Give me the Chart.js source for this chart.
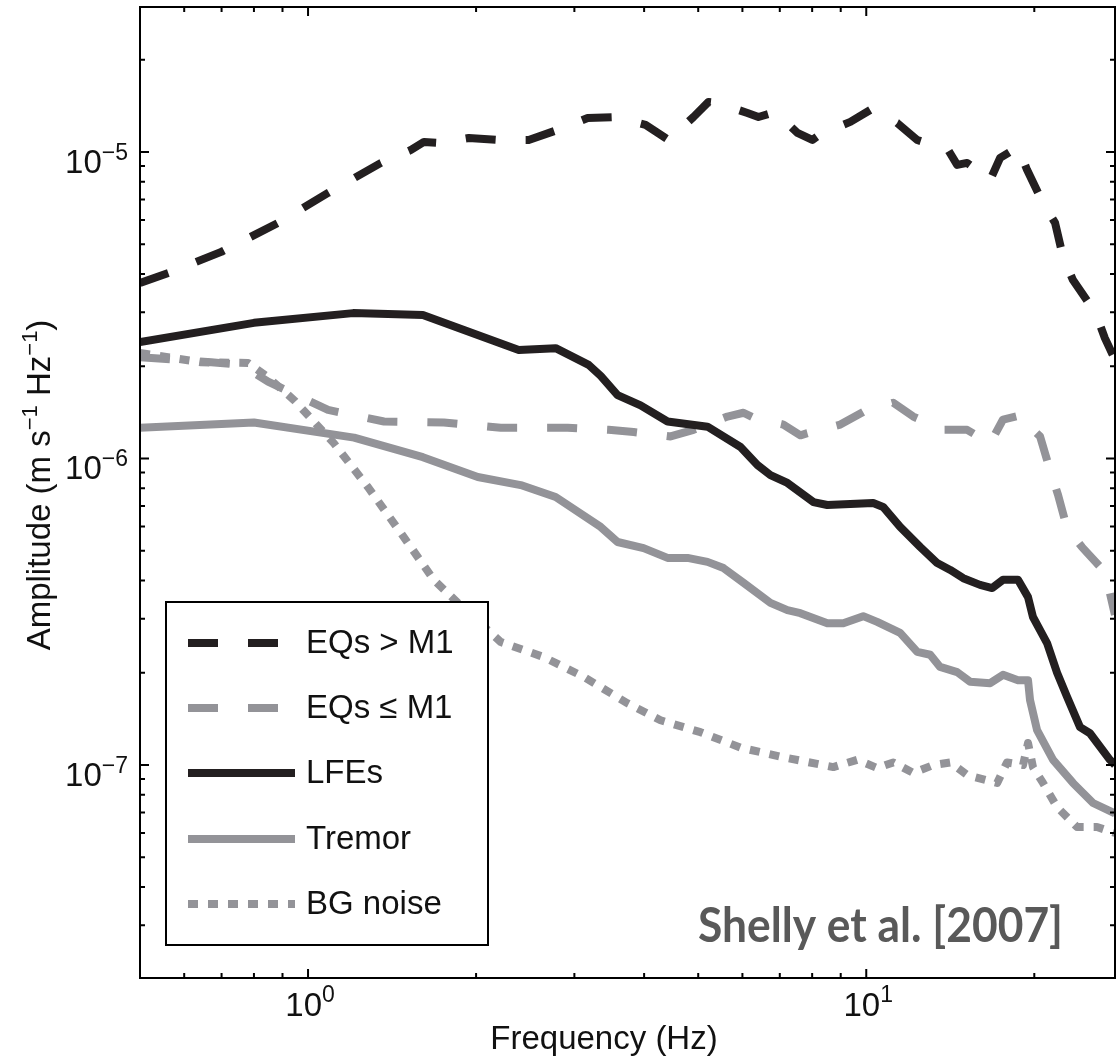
<!DOCTYPE html>
<html>
<head>
<meta charset="utf-8">
<script src="https://cdn.jsdelivr.net/npm/chart.js@4.4.1/dist/chart.umd.min.js"></script>
<style>
  html, body { margin: 0; padding: 0; background: #fff; }
  #wrap { width: 1120px; height: 1056px; }
</style>
</head>
<body>
<div id="wrap"><canvas id="grafico" width="1120" height="1056"></canvas></div>
<script>
(() => {
  "use strict";

  // ---------- dados ----------
  const eqBigFreq = [0.5, 0.562, 0.699, 0.884, 1.086, 1.351, 1.529, 1.613, 1.715, 1.941, 2.197, 2.485, 2.800, 3.169, 3.556, 4.024, 4.424, 4.903, 5.217, 5.414, 6.126, 6.410, 6.875, 7.528, 8.006, 8.343, 9.363, 10.17, 11.36, 12.34, 14.02, 14.55, 15.16, 16.67, 17.37, 18.70, 19.41, 20.73, 21.79, 22.52, 23.46, 25.16, 26.22, 26.76, 27.67];
  const eqBigAmp  = [3.74e-6, 4.03e-6, 4.72e-6, 5.87e-6, 7.35e-6, 9.21e-6, 1.015e-5, 1.078e-5, 1.07e-5, 1.11e-5, 1.094e-5, 1.094e-5, 1.18e-5, 1.29e-5, 1.30e-5, 1.225e-5, 1.094e-5, 1.30e-5, 1.456e-5, 1.445e-5, 1.34e-5, 1.30e-5, 1.35e-5, 1.153e-5, 1.094e-5, 1.153e-5, 1.253e-5, 1.371e-5, 1.243e-5, 1.094e-5, 1.015e-5, 9.07e-6, 9.21e-6, 8.10e-6, 9.56e-6, 1.038e-5, 8.74e-6, 6.82e-6, 5.87e-6, 4.54e-6, 3.82e-6, 3.17e-6, 2.73e-6, 2.47e-6, 2.17e-6];

  const eqSmallFreq = [0.5, 0.671, 0.759, 0.848, 1.086, 1.368, 1.751, 2.214, 2.918, 3.455, 3.830, 4.461, 4.903, 5.641, 6.026, 6.280, 7.105, 7.621, 7.844, 8.985, 9.877, 11.18, 12.14, 13.73, 15.16, 16.67, 17.58, 19.09, 19.65, 20.48, 21.34, 22.06, 22.89, 24.35, 26.55, 27.32, 27.89];
  const eqSmallAmp  = [2.14e-6, 2.06e-6, 2.02e-6, 1.78e-6, 1.44e-6, 1.32e-6, 1.31e-6, 1.26e-6, 1.26e-6, 1.24e-6, 1.22e-6, 1.18e-6, 1.24e-6, 1.37e-6, 1.41e-6, 1.36e-6, 1.29e-6, 1.19e-6, 1.21e-6, 1.29e-6, 1.42e-6, 1.52e-6, 1.37e-6, 1.24e-6, 1.24e-6, 1.12e-6, 1.34e-6, 1.39e-6, 1.27e-6, 1.18e-6, 9.18e-7, 7.60e-7, 5.93e-7, 5.14e-7, 4.33e-7, 3.64e-7, 3.09e-7];

  const lfeFreq = [0.5, 0.800, 1.204, 1.606, 2.385, 2.777, 3.182, 3.344, 3.585, 3.942, 4.406, 5.195, 5.953, 6.383, 6.735, 7.224, 8.040, 8.517, 10.29, 10.72, 11.50, 12.50, 13.40, 14.14, 14.92, 15.99, 16.81, 17.58, 18.70, 19.49, 19.89, 21.08, 21.97, 22.89, 24.15, 25.16, 27.32, 27.89];
  const lfeAmp  = [2.40e-6, 2.77e-6, 2.98e-6, 2.94e-6, 2.26e-6, 2.29e-6, 2.02e-6, 1.86e-6, 1.61e-6, 1.49e-6, 1.32e-6, 1.27e-6, 1.09e-6, 9.52e-7, 8.83e-7, 8.32e-7, 7.21e-7, 7.05e-7, 7.16e-7, 6.95e-7, 5.98e-7, 5.14e-7, 4.56e-7, 4.33e-7, 4.07e-7, 3.87e-7, 3.78e-7, 4.02e-7, 4.02e-7, 3.53e-7, 3.04e-7, 2.50e-7, 2.00e-7, 1.67e-7, 1.33e-7, 1.27e-7, 1.04e-7, 1.0e-7];

  const tremorFreq = [0.5, 0.800, 1.209, 1.606, 2.014, 2.404, 2.777, 3.344, 3.585, 3.991, 4.406, 4.784, 5.195, 5.550, 6.026, 6.735, 7.224, 7.621, 8.517, 9.097, 9.877, 10.46, 11.50, 12.34, 13.02, 13.56, 14.55, 15.35, 16.67, 17.58, 18.70, 19.49, 19.65, 20.23, 21.61, 23.46, 25.48, 27.89];
  const tremorAmp  = [1.26e-6, 1.31e-6, 1.17e-6, 1.01e-6, 8.70e-7, 8.19e-7, 7.49e-7, 5.98e-7, 5.34e-7, 5.10e-7, 4.74e-7, 4.74e-7, 4.60e-7, 4.39e-7, 3.93e-7, 3.38e-7, 3.20e-7, 3.13e-7, 2.90e-7, 2.90e-7, 3.06e-7, 2.93e-7, 2.70e-7, 2.34e-7, 2.29e-7, 2.09e-7, 2.01e-7, 1.87e-7, 1.85e-7, 1.97e-7, 1.89e-7, 1.89e-7, 1.63e-7, 1.30e-7, 1.04e-7, 8.74e-8, 7.52e-8, 6.95e-8];

  const noiseFreq = [0.5, 0.644, 0.781, 0.848, 0.944, 1.113, 1.280, 1.467, 1.680, 1.855, 2.214, 2.644, 3.117, 3.736, 4.280, 5.047, 5.953, 7.105, 8.730, 9.636, 10.46, 11.18, 12.14, 13.18, 14.14, 15.16, 17.16, 17.87, 19.09, 19.49, 19.89, 20.73, 21.97, 23.85, 25.90, 27.89];
  const noiseAmp  = [2.21e-6, 2.06e-6, 2.05e-6, 1.84e-6, 1.55e-6, 1.12e-6, 8.07e-7, 5.71e-7, 4.02e-7, 3.38e-7, 2.52e-7, 2.25e-7, 1.94e-7, 1.59e-7, 1.40e-7, 1.28e-7, 1.14e-7, 1.06e-7, 9.85e-8, 1.04e-7, 9.78e-8, 1.02e-7, 9.42e-8, 1.0e-7, 1.02e-7, 9.28e-8, 8.74e-8, 1.02e-7, 1.0e-7, 1.18e-7, 9.85e-8, 8.74e-8, 7.29e-8, 6.28e-8, 6.28e-8, 6.0e-8];

  const seriesNames = ["EQs > M1", "EQs \u2264 M1", "LFEs", "Tremor", "BG noise"];

  const xMajor = [1, 10];
  const xExp = ["0", "1"];
  const yMajor = [1e-5, 1e-6, 1e-7];
  const yExp = ["\u22125", "\u22126", "\u22127"];

  const X_MIN = 0.5, X_MAX = 27.9;
  const Y_MIN = 2.02e-8, Y_MAX = 2.97e-5;

  // ---------- estilo ----------
  const BLACK = "#231f20";
  const GRAY = "#939398";
  const FONT = '"Liberation Sans", Arial, Helvetica, sans-serif';
  const TICK_FONT = `33px ${FONT}`;
  const SUP_FONT = `23px ${FONT}`;
  const TITLE_FONT = `33px ${FONT}`;
  const TITLE_SUP = `22px ${FONT}`;

  const pts = (xs, ys) => xs.map((f, i) => ({ x: f, y: ys[i] }));

  function serie(label, xs, ys, color, dash, order) {
    return {
      label, data: pts(xs, ys),
      borderColor: color, backgroundColor: color,
      borderWidth: 8, borderDash: dash,
      borderCapStyle: "butt", borderJoinStyle: "round",
      pointRadius: 0, tension: 0, fill: false, clip: 0, order,
    };
  }

  // ---------- moldura + ticks para dentro (estilo MATLAB) ----------
  const framePlugin = {
    id: "frame",
    afterDatasetsDraw(chart) {
      const { ctx, chartArea: a, scales: { x, y } } = chart;
      ctx.save();
      ctx.strokeStyle = "#000";
      ctx.lineWidth = 2;
      ctx.beginPath();
      for (let e = -1; e <= 1; e++) {
        for (let m = 1; m < 10; m++) {
          const v = m * Math.pow(10, e);
          if (v < X_MIN || v > X_MAX) continue;
          const px = x.getPixelForValue(v);
          const len = m === 1 ? 9 : 5;
          ctx.moveTo(px, a.bottom); ctx.lineTo(px, a.bottom - len);
          ctx.moveTo(px, a.top); ctx.lineTo(px, a.top + len);
        }
      }
      for (let e = -8; e <= -5; e++) {
        for (let m = 1; m < 10; m++) {
          const v = m * Math.pow(10, e);
          if (v < Y_MIN || v > Y_MAX) continue;
          const py = y.getPixelForValue(v);
          const len = m === 1 ? 9 : 5;
          ctx.moveTo(a.left, py); ctx.lineTo(a.left + len, py);
          ctx.moveTo(a.right, py); ctx.lineTo(a.right - len, py);
        }
      }
      ctx.stroke();
      ctx.strokeRect(a.left, a.top, a.right - a.left, a.bottom - a.top);
      ctx.restore();
    },
  };

  // ---------- legenda em caixa ----------
  const legendPlugin = {
    id: "caixaLegenda",
    afterDraw(chart) {
      const { ctx } = chart;
      const box = { l: 166, t: 602, r: 488, b: 945 };
      const rows = [643, 708, 773, 839, 904];
      ctx.save();
      ctx.fillStyle = "#fff";
      ctx.fillRect(box.l, box.t, box.r - box.l, box.b - box.t);
      ctx.strokeStyle = "#000";
      ctx.lineWidth = 2;
      ctx.strokeRect(box.l, box.t, box.r - box.l, box.b - box.t);
      chart.data.datasets.forEach((ds, i) => {
        const yy = rows[i];
        ctx.beginPath();
        ctx.strokeStyle = ds.borderColor;
        ctx.lineWidth = ds.borderWidth;
        ctx.lineCap = "butt";
        ctx.setLineDash(ds.borderDash || []);
        ctx.moveTo(188, yy); ctx.lineTo(295, yy);
        ctx.stroke();
        ctx.setLineDash([]);
        ctx.fillStyle = "#111";
        ctx.font = TITLE_FONT;
        ctx.textAlign = "left";
        ctx.textBaseline = "middle";
        ctx.fillText(ds.label, 306, yy + 1);
      });
      ctx.restore();
    },
  };

  // ---------- rótulos (10^n), títulos e citação ----------
  const labelPlugin = {
    id: "rotulos",
    afterDraw(chart) {
      const { ctx, scales: { x, y } } = chart;
      ctx.save();
      ctx.fillStyle = "#111";
      ctx.textBaseline = "alphabetic";

      yMajor.forEach((v, i) => {
        const py = y.getPixelForValue(v);
        ctx.font = SUP_FONT;
        const sw = ctx.measureText(yExp[i]).width;
        ctx.textAlign = "right";
        ctx.fillText(yExp[i], 128, py + 8);
        ctx.font = TICK_FONT;
        ctx.fillText("10", 128 - sw, py + 21);
      });

      xMajor.forEach((v, i) => {
        const px = x.getPixelForValue(v);
        ctx.font = TICK_FONT;
        const w1 = ctx.measureText("10").width;
        ctx.font = SUP_FONT;
        const w2 = ctx.measureText(xExp[i]).width;
        const start = px - (w1 + w2) / 2 + 2;
        ctx.textAlign = "left";
        ctx.font = TICK_FONT;
        ctx.fillText("10", start, 1016);
        ctx.font = SUP_FONT;
        ctx.fillText(xExp[i], start + w1, 1002);
      });

      // eixo x
      ctx.font = TITLE_FONT;
      ctx.textAlign = "center";
      ctx.fillText("Frequency (Hz)", 604, 1049);

      // eixo y (rotacionado, com expoentes)
      const parts = [
        ["Amplitude (m s", false], ["\u22121", true], [" Hz", false], ["\u22121", true], [")", false],
      ];
      let total = 0;
      parts.forEach(([t, sup]) => { ctx.font = sup ? TITLE_SUP : TITLE_FONT; total += ctx.measureText(t).width; });
      ctx.translate(38, 485);
      ctx.rotate(-Math.PI / 2);
      ctx.textAlign = "left";
      let cx = -total / 2;
      parts.forEach(([t, sup]) => {
        ctx.font = sup ? TITLE_SUP : TITLE_FONT;
        ctx.fillText(t, cx, sup ? -1 : 12);
        cx += ctx.measureText(t).width;
      });
      ctx.setTransform(1, 0, 0, 1, 0, 0);

      // citação (fonte mais alta e comprimida na horizontal, como Calibri)
      const cite = "Shelly et al. [2007]";
      ctx.font = `bold 48px Lato, "Open Sans", sans-serif`;
      const cw = ctx.measureText(cite).width;
      ctx.fillStyle = "#595959";
      ctx.textAlign = "left";
      ctx.translate(698, 942);
      ctx.scale(365 / cw, 1);
      ctx.fillText(cite, 0, 0);
      ctx.setTransform(1, 0, 0, 1, 0, 0);
      ctx.restore();
    },
  };

  // ---------- gráfico ----------
  new Chart(document.getElementById("grafico"), {
    type: "line",
    data: {
      datasets: [
        serie(seriesNames[0], eqBigFreq, eqBigAmp, BLACK, [30, 30], 5),
        serie(seriesNames[1], eqSmallFreq, eqSmallAmp, GRAY, [30, 30], 4),
        serie(seriesNames[2], lfeFreq, lfeAmp, BLACK, [], 3),
        serie(seriesNames[3], tremorFreq, tremorAmp, GRAY, [], 2),
        serie(seriesNames[4], noiseFreq, noiseAmp, GRAY, [10, 10], 1),
      ],
    },
    options: {
      responsive: false,
      animation: false,
      devicePixelRatio: 1,
      layout: { padding: { top: 7, right: 5, left: 0, bottom: 0 } },
      plugins: { legend: { display: false }, tooltip: { enabled: false } },
      scales: {
        x: {
          type: "logarithmic", min: X_MIN, max: X_MAX,
          grid: { display: false }, border: { display: false },
          ticks: { display: false },
          afterFit: (s) => { s.height = 78; },
        },
        y: {
          type: "logarithmic", min: Y_MIN, max: Y_MAX,
          grid: { display: false }, border: { display: false },
          ticks: { display: false },
          afterFit: (s) => { s.width = 140; },
        },
      },
    },
    plugins: [framePlugin, legendPlugin, labelPlugin],
  });
})();
</script>
</body>
</html>
